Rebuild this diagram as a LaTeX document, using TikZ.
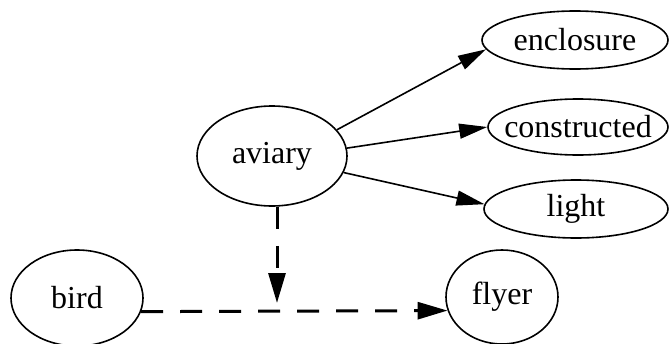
\documentclass[tikz,border=0pt]{standalone}
\usepackage{fontspec}
\setmainfont{Liberation Serif}
\usetikzlibrary{arrows.meta,shapes.geometric}
\newcommand{\ctext}[1]{\makebox[0pt]{#1}}
\begin{document}
\begin{tikzpicture}[x=1pt,y=-1pt,
  ov/.style={draw,ellipse,line width=1.6pt,inner sep=0pt,font=\fontsize{32}{38}\selectfont},
  solidarrow/.style={line width=1.6pt,-{Triangle[length=28pt,width=15pt]}},
  dasharrow/.style={line width=3pt,dash pattern=on 22pt off 17pt,-{Triangle[length=30pt,width=17pt]}}]
\useasboundingbox (0,0) rectangle (669,343);
\node[ov,minimum width=150pt,minimum height=100pt] (aviary) at (272,156) {\ctext{aviary}};
\node[ov,minimum width=132pt,minimum height=96pt] (bird) at (77,298) {\ctext{bird}};
\node[ov,minimum width=112pt,minimum height=94pt] (flyer) at (502,297) {\ctext{flyer}};
\node[ov,minimum width=186pt,minimum height=58pt] (enclosure) at (575,40) {\ctext{enclosure}};
\node[ov,minimum width=180pt,minimum height=56pt] (constructed) at (578,127) {\ctext{constructed}};
\node[ov,minimum width=184pt,minimum height=58pt] (light) at (576,209) {\ctext{light}};
\coordinate (j) at (277,303);
\draw[solidarrow] (aviary.22) -- (enclosure.186);
\draw[solidarrow] (aviary.6) -- (constructed.180);
\draw[solidarrow] (aviary.-13) -- (light.177);
\draw[dasharrow] (aviary.south -| j) -- (j);
\draw[dasharrow] (bird.-12) -- (flyer.194);
\end{tikzpicture}
\end{document}
